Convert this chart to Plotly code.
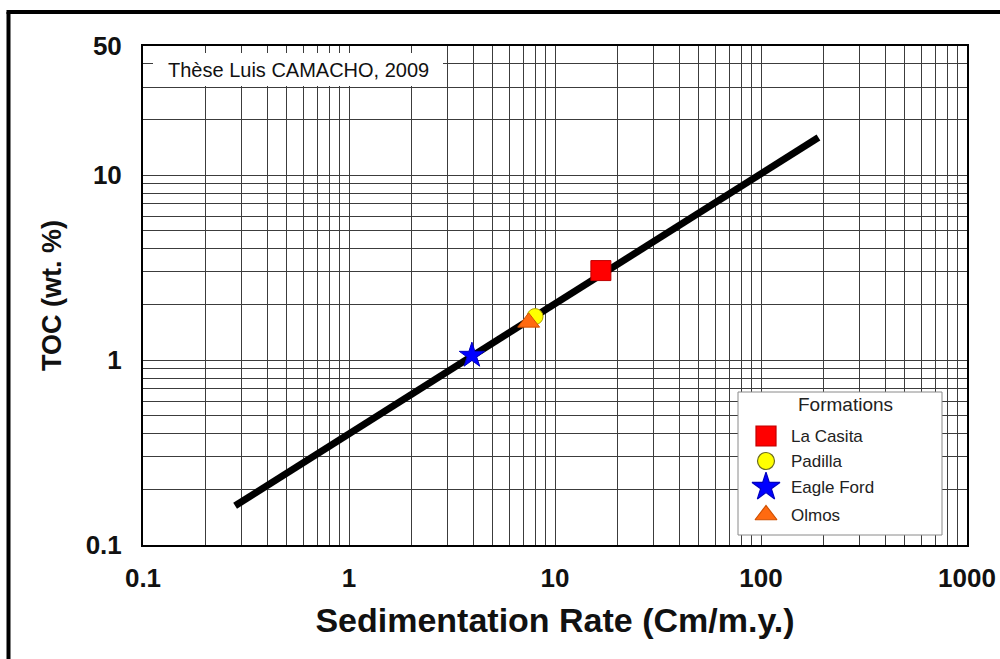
import plotly.graph_objects as go

# ---------------- data ----------------
trend_x = [0.28, 190.0]
trend_y = [0.163, 16.0]

formations = ["La Casita", "Padilla", "Eagle Ford", "Olmos"]
form_x = [16.7, 8.0, 3.95, 7.45]
form_y = [3.05, 1.72, 1.06, 1.60]
form_symbols = ["square", "circle", "star", "triangle-up"]
form_colors = ["#FF0000", "#FFFF00", "#0000FF", "#FF6A10"]
form_edges = ["#C00000", "#B0A000", "#0000C0", "#D05000"]
form_sizes = [20, 16, 19, 19]
legend_sizes = [20, 17, 21, 19]

x_grid_vals = [m * 10.0 ** e for e in range(-1, 3) for m in range(1, 10)] + [1000]
x_labels = {0.1: "0.1", 1: "1", 10: "10", 100: "100", 1000: "1000"}
x_tick_text = [x_labels.get(round(v, 6), "") for v in x_grid_vals]
y_grid_vals = [m * 10.0 ** e for e in range(-1, 1) for m in range(1, 10)] + [10, 20, 30, 40, 50]
y_labels = {0.1: "0.1", 1: "1", 10: "10", 50: "50"}
y_tick_text = [y_labels.get(round(v, 6), "") for v in y_grid_vals]

x_title = "Sedimentation Rate (Cm/m.y.)"
y_title = "TOC (wt. %)"
credit = "Thèse Luis CAMACHO, 2009"
legend_title = "Formations"

# ---------------- layout helpers (pixels) ----------------
W, H = 1000, 659
L, R, T, B = 143, 967, 46, 545   # plot area in pixels
PW, PH = R - L, B - T
X_LOG_RANGE = [-1, 3]
Y_LOG_RANGE = [-1, 1.69897]


def px(x):
    return (x - L) / PW


def py(y):
    return (B - y) / PH


def dx(x):  # pixel -> x data value (log axis)
    return 10 ** (X_LOG_RANGE[0] + px(x) * (X_LOG_RANGE[1] - X_LOG_RANGE[0]))


def dy(y):
    return 10 ** (Y_LOG_RANGE[0] + py(y) * (Y_LOG_RANGE[1] - Y_LOG_RANGE[0]))


FONT = "Arial, 'Liberation Sans', sans-serif"

fig = go.Figure()

fig.add_trace(go.Scatter(
    x=trend_x, y=trend_y, mode="lines",
    line=dict(color="black", width=7), showlegend=False, hoverinfo="skip"))

for i, name in enumerate(formations):
    fig.add_trace(go.Scatter(
        x=[form_x[i]], y=[form_y[i]], mode="markers", name=name,
        marker=dict(symbol=form_symbols[i], size=form_sizes[i], color=form_colors[i],
                    line=dict(color=form_edges[i], width=1)),
        showlegend=False))

# manual legend markers on an overlay axis spanning the plot area
leg_rows_px = [436, 461, 487, 515]
leg_marker_x = 766
for i, name in enumerate(formations):
    fig.add_trace(go.Scatter(
        x=[px(leg_marker_x)], y=[py(leg_rows_px[i])], mode="markers",
        xaxis="x2", yaxis="y2", showlegend=False, hoverinfo="skip",
        marker=dict(symbol=form_symbols[i], size=legend_sizes[i], color=form_colors[i],
                    line=dict(color="#6b6b20" if i == 1 else form_edges[i], width=1.2))))
    fig.add_annotation(x=px(789), y=py(leg_rows_px[i]), xref="paper", yref="paper",
                       text=name, showarrow=False, xanchor="left", yanchor="middle",
                       font=dict(family=FONT, size=17, color="#222222"))

fig.add_annotation(x=px(845), y=py(404), xref="paper", yref="paper", text=legend_title,
                   showarrow=False, xanchor="center", yanchor="middle",
                   font=dict(family=FONT, size=19, color="#222222"))

fig.add_annotation(x=px(298), y=py(70), xref="paper", yref="paper", text=credit,
                   showarrow=False, xanchor="center", yanchor="middle",
                   font=dict(family=FONT, size=20, color="#111111"))

shapes = [
    # credit box (white, above grid, below traces)
    dict(type="rect", xref="x", yref="y", x0=dx(153), x1=dx(443),
         y0=dy(86), y1=dy(53), fillcolor="white", line=dict(width=0), layer="between"),
    # legend box
    dict(type="rect", xref="x", yref="y", x0=dx(738), x1=dx(942),
         y0=dy(535), y1=dy(392), fillcolor="white", line=dict(color="#8a8a8a", width=1),
         layer="between"),
    # outer frame (left and top)
    dict(type="line", xref="paper", yref="paper", x0=px(8.5), x1=px(8.5),
         y0=py(12), y1=py(720), line=dict(color="black", width=4), layer="above"),
    dict(type="line", xref="paper", yref="paper", x0=px(6.5), x1=px(1010),
         y0=py(12), y1=py(12), line=dict(color="black", width=4), layer="above"),
]

tickfont = dict(family=FONT, size=26, color="#111111", weight="bold")
axis_common = dict(
    type="log", showline=True, mirror=True, linecolor="black", linewidth=2,
    showgrid=True, gridcolor="#3c3c3c", gridwidth=1, ticks="", zeroline=False,
    tickfont=tickfont, tickmode="array", automargin=False,
)

fig.update_layout(
    width=W, height=H,
    margin=dict(l=L, r=W - R, t=T, b=H - B, autoexpand=False),
    paper_bgcolor="white", plot_bgcolor="white",
    showlegend=False,
    shapes=shapes,
    xaxis=dict(axis_common, range=X_LOG_RANGE, tickvals=x_grid_vals,
               ticktext=x_tick_text, ticklabelstandoff=9,
               title=dict(text="<b>%s</b>" % x_title, standoff=16,
                          font=dict(family=FONT, size=34, color="#111111"))),
    yaxis=dict(axis_common, range=Y_LOG_RANGE, tickvals=y_grid_vals,
               ticktext=y_tick_text, ticklabelstandoff=14,
               title=dict(text="<b>%s</b>" % y_title, standoff=16,
                          font=dict(family=FONT, size=27, color="#111111"))),
    xaxis2=dict(overlaying="x", range=[0, 1], visible=False, anchor="y2"),
    yaxis2=dict(overlaying="y", range=[0, 1], visible=False, anchor="x2"),
)

fig.write_html("out.html", config={"displayModeBar": False},
               post_script="document.body.style.margin='0';document.body.style.overflow='hidden';")
